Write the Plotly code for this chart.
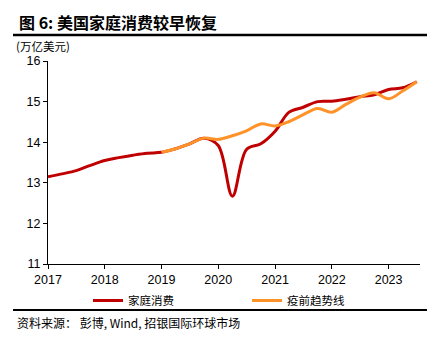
import plotly.graph_objects as go

# Quarterly household consumption (trillion USD) and the pre-pandemic trend line
quarters = [
    "2017-01-01", "2017-04-01", "2017-07-01", "2017-10-01",
    "2018-01-01", "2018-04-01", "2018-07-01", "2018-10-01",
    "2019-01-01", "2019-04-01", "2019-07-01", "2019-10-01",
    "2020-01-01", "2020-04-01", "2020-07-01", "2020-10-01",
    "2021-01-01", "2021-04-01", "2021-07-01", "2021-10-01",
    "2022-01-01", "2022-04-01", "2022-07-01", "2022-10-01",
    "2023-01-01", "2023-04-01", "2023-07-01",
]
household_consumption = [
    13.15, 13.22, 13.30, 13.43,
    13.55, 13.62, 13.68, 13.73,
    13.75, 13.84, 13.96, 14.10,
    13.92, 12.67, 13.82, 13.96,
    14.27, 14.74, 14.86, 15.00,
    15.01, 15.06, 15.12, 15.17,
    15.30, 15.34, 15.49,
]
trend_quarters = quarters[8:]
pre_pandemic_trend = [
    13.75, 13.84, 13.96, 14.10,
    14.07, 14.16, 14.28, 14.45,
    14.40, 14.51, 14.68, 14.83,
    14.74, 14.93, 15.11, 15.22,
    15.07, 15.26, 15.49,
]
year_ticks = ["2017-01-01", "2018-01-01", "2019-01-01", "2020-01-01",
              "2021-01-01", "2022-01-01", "2023-01-01"]
year_labels = ["2017", "2018", "2019", "2020", "2021", "2022", "2023"]

RED = "#C00000"
ORANGE = "#FF9228"
CJK = "Noto Sans CJK SC"
LATIN = "Liberation Sans, Arial, sans-serif"

# Figure geometry in pixels, used to place paper-referenced items
W, H = 440, 340
ML, MR, MT, MB = 48, 20, 61, 76
PW, PH = W - ML - MR, H - MT - MB


def px_x(px):
    return (px - ML) / PW


def px_y(py):
    return (H - MB - py) / PH


fig = go.Figure()
fig.add_trace(go.Scatter(
    x=quarters, y=household_consumption, mode="lines", name="家庭消费",
    line=dict(color=RED, width=3, shape="spline", smoothing=1.0),
    legend="legend",
))
fig.add_trace(go.Scatter(
    x=trend_quarters, y=pre_pandemic_trend, mode="lines", name="疫前趋势线",
    line=dict(color=ORANGE, width=3, shape="spline", smoothing=1.0),
    legend="legend2",
))

legend_style = dict(
    orientation="h", xanchor="left", yanchor="top",
    font=dict(family=CJK, size=11.5, color="black"),
    bgcolor="rgba(0,0,0,0)", itemclick=False, itemdoubleclick=False,
)

fig.update_layout(
    width=W, height=H,
    margin=dict(l=ML, r=MR, t=MT, b=MB, autoexpand=False),
    paper_bgcolor="white", plot_bgcolor="white",
    font=dict(family=LATIN, size=12, color="black"),
    showlegend=True,
    legend=dict(x=px_x(88), y=px_y(286), **legend_style),
    legend2=dict(x=px_x(247), y=px_y(286), **legend_style),
)

fig.update_xaxes(
    type="date", range=["2017-01-01", "2023-07-22"],
    tickvals=year_ticks, ticktext=year_labels,
    showgrid=False, zeroline=False,
    showline=True, linecolor="black", linewidth=1.2,
    ticks="outside", ticklen=4, tickcolor="black", tickwidth=1,
    tickfont=dict(family=LATIN, size=12.5, color="black"),
)
fig.update_yaxes(
    range=[11, 16], dtick=1,
    showgrid=False, zeroline=False,
    showline=True, linecolor="black", linewidth=1.2,
    ticks="outside", ticklen=4, tickcolor="black", tickwidth=1,
    tickfont=dict(family=LATIN, size=12.5, color="black"),
)

# Title, unit label, rules and source note
fig.add_annotation(
    x=px_x(17), y=px_y(22), xref="paper", yref="paper",
    xanchor="left", yanchor="middle", showarrow=False,
    text="<b>图 6: 美国家庭消费较早恢复</b>",
    font=dict(family=CJK, size=16, color="black"),
)
fig.add_shape(type="line", xref="paper", yref="paper",
              x0=px_x(13), x1=px_x(427), y0=px_y(35), y1=px_y(35),
              line=dict(color="black", width=2.5))
fig.add_annotation(
    x=px_x(14), y=px_y(46), xref="paper", yref="paper",
    xanchor="left", yanchor="middle", showarrow=False,
    text="(万亿美元)", font=dict(family=CJK, size=11.5, color="black"),
)
fig.add_shape(type="line", xref="paper", yref="paper",
              x0=px_x(13), x1=px_x(427), y0=px_y(310), y1=px_y(310),
              line=dict(color="black", width=2))
fig.add_annotation(
    x=px_x(15), y=px_y(322), xref="paper", yref="paper",
    xanchor="left", yanchor="middle", showarrow=False,
    text="资料来源： 彭博, Wind, 招银国际环球市场",
    font=dict(family=CJK, size=12, color="black"),
)

fig.write_html("out.html")
